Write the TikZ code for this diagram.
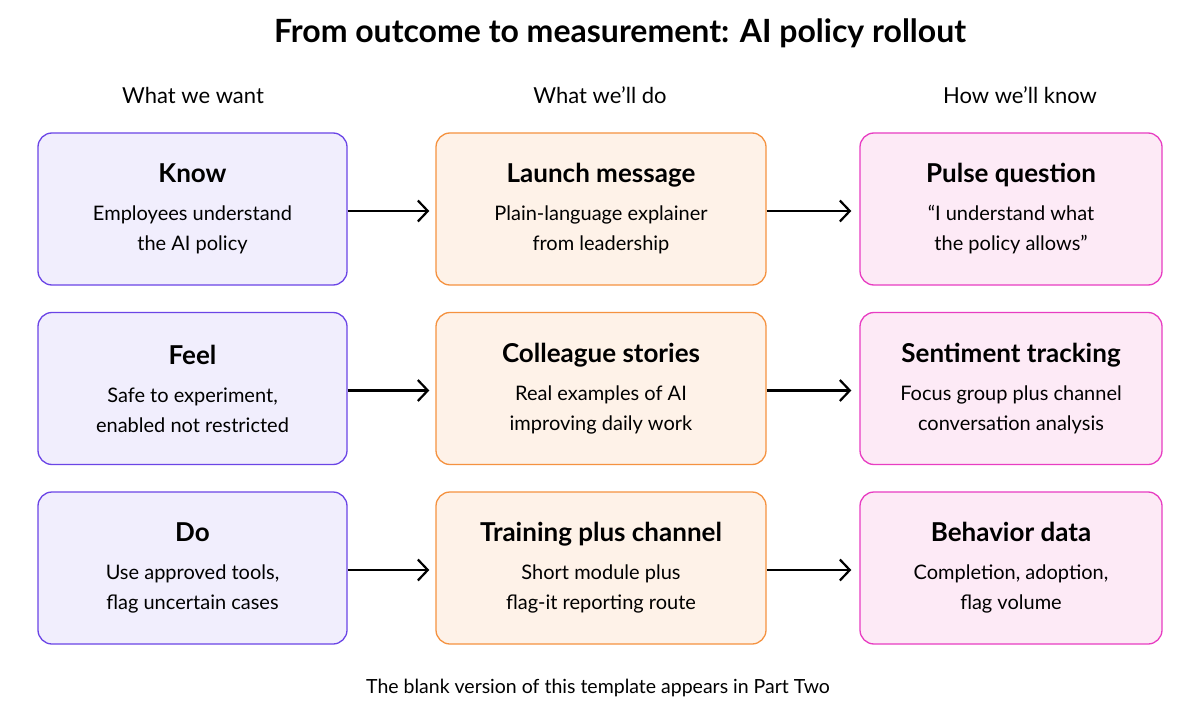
\documentclass[tikz,border=0pt]{standalone}
\usepackage{fontspec}
\setmainfont{Lato}
\usetikzlibrary{arrows.meta}
\definecolor{wantline}{HTML}{6B45E6}
\definecolor{wantfill}{HTML}{F1EEFD}
\definecolor{doline}{HTML}{F59240}
\definecolor{dofill}{HTML}{FEF2E8}
\definecolor{knowline}{HTML}{E83DC2}
\definecolor{knowfill}{HTML}{FDEAF6}
\newcommand{\boxhead}[1]{{\fontsize{26}{30}\selectfont\bfseries #1}\\[8pt]}
\begin{document}
\begin{tikzpicture}
	[x=1pt, y=-1pt,
	card/.style={rounded corners=14pt, line width=1.3pt, minimum height=152pt,
		align=center, font=\fontsize{20}{30}\selectfont},
	want/.style={card, draw=wantline, fill=wantfill, minimum width=309pt},
	dobox/.style={card, draw=doline, fill=dofill, minimum width=330pt},
	knowbox/.style={card, draw=knowline, fill=knowfill, minimum width=302pt},
	colhead/.style={font=\fontsize{22}{26}\selectfont},
	link/.style={-{Straight Barb[length=10pt, width=21pt]}, line width=2.2pt}]
	\useasboundingbox (0,0) rectangle (1202,722);
	\fill[white] (0,0) rectangle (1202,722);
	% title and column heads
	\node[font=\fontsize{32}{36}\selectfont\bfseries] (title) at (620,33) {From outcome to measurement: AI policy rollout};
	\node[colhead] (hwant) at (193,95) {What we want};
	\node[colhead] (hdo) at (600,95) {What we’ll do};
	\node[colhead] (hknow) at (1020,95) {How we’ll know};
	% want
	\node[want] (know) at (192.5,209) {\boxhead{Know}Employees understand\\the AI policy};
	\node[want] (feel) at (192.5,388.5) {\boxhead{Feel}Safe to experiment,\\enabled not restricted};
	\node[want] (do) at (192.5,568) {\boxhead{Do}Use approved tools,\\flag uncertain cases};
	% do
	\node[dobox] (launch) at (601,209) {\boxhead{Launch message}Plain-language explainer\\from leadership};
	\node[dobox] (stories) at (601,388.5) {\boxhead{Colleague stories}Real examples of AI\\improving daily work};
	\node[dobox] (training) at (601,568) {\boxhead{Training plus channel}Short module plus\\flag-it reporting route};
	% know
	\node[knowbox] (pulse) at (1011,209) {\boxhead{Pulse question}“I understand what\\the policy allows”};
	\node[knowbox] (sentiment) at (1011,388.5) {\boxhead{Sentiment tracking}Focus group plus channel\\conversation analysis};
	\node[knowbox] (behavior) at (1011,568) {\boxhead{Behavior data}Completion, adoption,\\flag volume};
	% arrows
	\draw[link] ([yshift=-2pt]know.east) -- ([xshift=-6pt,yshift=-2pt]launch.west);
	\draw[link] ([yshift=-2pt]feel.east) -- ([xshift=-6pt,yshift=-2pt]stories.west);
	\draw[link] ([yshift=-2pt]do.east) -- ([xshift=-6pt,yshift=-2pt]training.west);
	\draw[link] ([yshift=-2pt]launch.east) -- ([xshift=-8pt,yshift=-2pt]pulse.west);
	\draw[link] ([yshift=-2pt]stories.east) -- ([xshift=-8pt,yshift=-2pt]sentiment.west);
	\draw[link] ([yshift=-2pt]training.east) -- ([xshift=-8pt,yshift=-2pt]behavior.west);
	% footer
	\node[font=\fontsize{19.5}{22}\selectfont] (note) at (598,688) {The blank version of this template appears in Part Two};
\end{tikzpicture}
\end{document}
